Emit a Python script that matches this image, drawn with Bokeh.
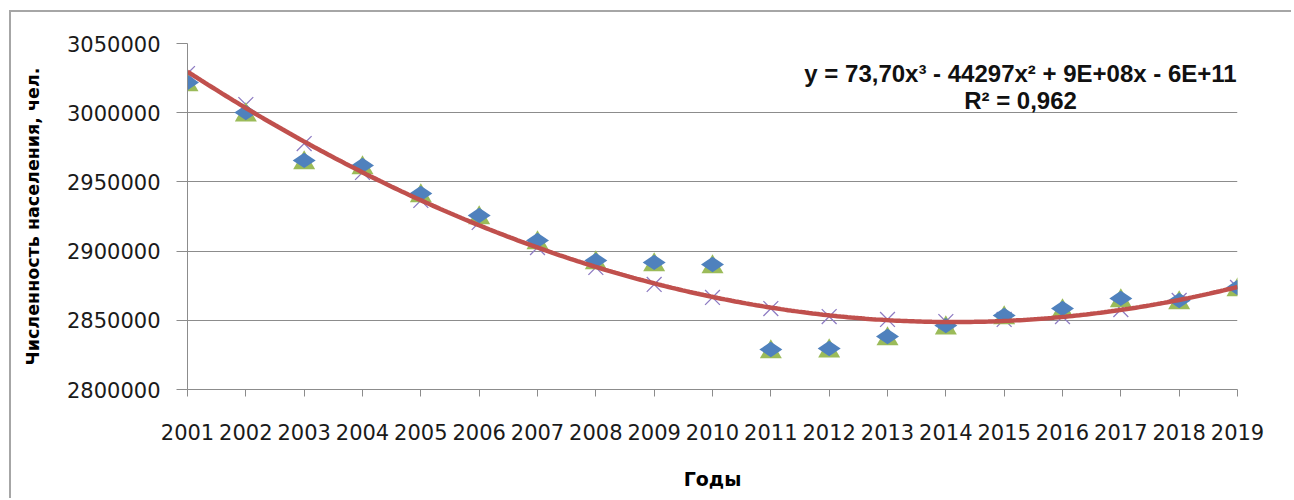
import numpy as np
from bokeh.plotting import figure
from bokeh.layouts import column
from bokeh.models import (Range1d, SingleIntervalTicker, NumeralTickFormatter,
                          Label, ColumnDataSource)
from bokeh.transform import dodge
from bokeh.embed import file_html
from bokeh.resources import INLINE

# Population by year, persons
years = [2001, 2002, 2003, 2004, 2005, 2006, 2007, 2008, 2009, 2010,
         2011, 2012, 2013, 2014, 2015, 2016, 2017, 2018, 2019]
population = [3021800, 3000100, 2965500, 2961900, 2941600, 2925700, 2907700,
              2893200, 2891800, 2890300, 2828900, 2829600, 2838300, 2846200,
              2853500, 2858500, 2865800, 2864300, 2873700]
# Values given by the cubic trend for each year
trend_values = [3028300, 3005900, 2977700, 2956800, 2936600, 2920700, 2902600,
                2888200, 2875900, 2866500, 2858500, 2852700, 2850600, 2849100,
                2850600, 2852700, 2857800, 2864300, 2873700]

equation_text = "y = 73,70x\u00b3 - 44297x\u00b2 + 9E+08x - 6E+11"
r2_text = "R\u00b2 = 0,962"
x_title = "Годы"
y_title = "Численность населения, чел."

src = ColumnDataSource(dict(year=years, pop=population, trend=trend_values))

# Smooth cubic curve through the trend values
yr = np.array(years, dtype=float)
coef = np.polyfit(yr - 2010, np.array(trend_values, dtype=float), 3)
xs = np.linspace(yr.min(), yr.max(), 300)
ys = np.polyval(coef, xs - 2010)

GRID = "#8c8c8c"

p = figure(width=1280, height=486,
           x_range=Range1d(2001, 2019), y_range=Range1d(2800000, 3050000),
           output_backend="svg", toolbar_location=None,
           min_border_left=176, min_border_right=54,
           min_border_top=31, min_border_bottom=109)
p.outline_line_color = None
p.background_fill_color = "white"
p.border_fill_color = "white"

p.xgrid.visible = False
p.ygrid.grid_line_color = GRID
p.ygrid.grid_line_width = 1

p.yaxis.ticker = SingleIntervalTicker(interval=50000, num_minor_ticks=0)
p.yaxis.formatter = NumeralTickFormatter(format="0")
p.xaxis.ticker = SingleIntervalTicker(interval=1, num_minor_ticks=0)

for ax in (p.xaxis[0], p.yaxis[0]):
    ax.axis_line_color = GRID
    ax.major_tick_line_color = GRID
    ax.major_tick_in = 0
    ax.minor_tick_line_color = None
    ax.major_label_text_font = "DejaVu Sans"
    ax.major_label_text_font_size = "21px"
    ax.major_label_text_color = "#1a1a1a"
    ax.axis_label_text_font = "DejaVu Sans"
    ax.axis_label_text_font_style = "bold"
    ax.axis_label_text_color = "#000000"

p.yaxis.major_tick_out = 11
p.yaxis.major_label_standoff = 16
p.yaxis.axis_label = y_title
p.yaxis.axis_label_text_font_size = "17.5px"
p.yaxis.axis_label_standoff = 21

p.xaxis.major_tick_out = 7
p.xaxis.major_label_standoff = 27
p.xaxis.axis_label = x_title
p.xaxis.axis_label_text_font_size = "19px"
p.xaxis.axis_label_standoff = 25

# Fitted values
p.scatter("year", "trend", source=src, marker="x", size=21,
          line_color="#8E7CC3", line_width=1.3)
# Series markers
p.scatter("year", dodge("pop", -1800, range=p.y_range), source=src,
          marker="triangle", size=22, fill_color="#9BBB59", line_color=None)
p.scatter("year", "pop", source=src, marker="diamond", angle=np.pi / 2,
          size=23, fill_color="#4F81BD", line_color=None)
# Trend line
p.line(xs, ys, line_color="#C0504D", line_width=4.5)

p.add_layout(Label(x=2015.28, y=3028300, text=equation_text,
                   text_align="center", text_baseline="middle",
                   text_font="Liberation Sans", text_font_style="bold",
                   text_font_size="24px", text_color="#111111"))
p.add_layout(Label(x=2015.28, y=3008800, text=r2_text,
                   text_align="center", text_baseline="middle",
                   text_font="Liberation Sans", text_font_style="bold",
                   text_font_size="24px", text_color="#111111"))

layout = column(p, styles={"border-left": "2px solid #a6a6a6",
                           "border-top": "2px solid #a6a6a6",
                           "margin-left": "9px", "margin-top": "10px"})

open("out.html", "w").write(file_html(layout, INLINE))
